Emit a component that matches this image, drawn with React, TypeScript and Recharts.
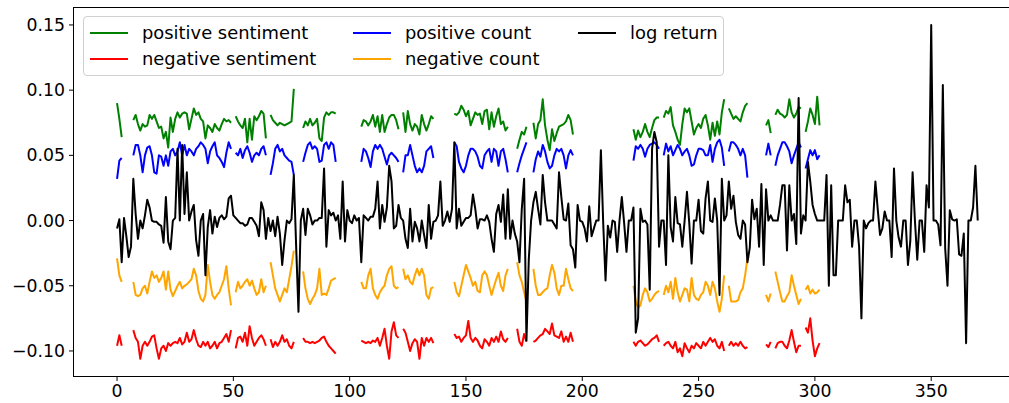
import React from 'react';
import { LineChart, Line, XAxis, YAxis } from 'recharts';

const indexCount = 371;
const xTicks = [0, 50, 100, 150, 200, 250, 300, 350];
const yTicks = [-0.1, -0.05, 0, 0.05, 0.1, 0.15];

// start index of each contiguous run of sentiment data (gaps between runs are missing days)
const segmentStarts = [0, 7, 51, 66, 80, 105, 123, 145, 172, 179, 222, 235, 263, 279, 283, 296];

const positiveSentiment = [
  [0.09, 0.078, 0.064],
  [0.077, 0.081, 0.074, 0.069, 0.074, 0.072, 0.073, 0.081, 0.078, 0.081, 0.076, 0.071, 0.072, 0.063, 0.068, 0.056, 0.079, 0.068, 0.078, 0.083, 0.079, 0.082, 0.083, 0.082, 0.07, 0.078, 0.086, 0.081, 0.083, 0.078, 0.076, 0.063, 0.073, 0.071, 0.068, 0.074, 0.071, 0.069, 0.074, 0.078, 0.076, 0.077, 0.075],
  [0.08, 0.076, 0.073, 0.071, 0.078, 0.06, 0.078, 0.062, 0.08, 0.077, 0.08, 0.084, 0.082, 0.063],
  [0.081, 0.077, 0.075, 0.073, 0.075, 0.074, 0.073, 0.074, 0.075, 0.076, 0.101],
  [0.071, 0.076, 0.073, 0.078, 0.073, 0.075, 0.078, 0.063, 0.061, 0.079, 0.083, 0.081, 0.083, 0.083, 0.082],
  [0.072, 0.077, 0.076, 0.073, 0.076, 0.081, 0.072, 0.08, 0.068, 0.081, 0.068, 0.074, 0.079, 0.081, 0.081, 0.077, 0.07],
  [0.083, 0.068, 0.084, 0.074, 0.069, 0.074, 0.072, 0.066, 0.081, 0.074, 0.069, 0.074, 0.08, 0.078],
  [0.082, 0.081, 0.083, 0.088, 0.085, 0.08, 0.084, 0.073, 0.078, 0.083, 0.081, 0.082, 0.074, 0.084, 0.085, 0.07, 0.083, 0.072, 0.08, 0.086, 0.074, 0.076, 0.069, 0.072],
  [0.055, 0.062, 0.068, 0.066, 0.072],
  [0.075, 0.063, 0.074, 0.077, 0.093, 0.073, 0.062, 0.054, 0.07, 0.061, 0.067, 0.072, 0.073, 0.074, 0.076, 0.081, 0.077, 0.066],
  [0.07, 0.062, 0.069, 0.064, 0.068, 0.074, 0.068, 0.064, 0.071, 0.077, 0.079, 0.079],
  [0.079, 0.084, 0.082, 0.087, 0.073, 0.068, 0.062, 0.058, 0.074, 0.086, 0.083, 0.086, 0.076, 0.066, 0.071, 0.074, 0.071, 0.078, 0.081, 0.073, 0.062, 0.075, 0.065, 0.076, 0.066, 0.083, 0.093],
  [0.086, 0.082, 0.078, 0.08, 0.078, 0.076, 0.083, 0.088, 0.09],
  [0.073, 0.077, 0.067],
  [0.081, 0.085, 0.082, 0.081, 0.079, 0.081, 0.093, 0.083, 0.079, 0.082, 0.087, 0.086],
  [0.068, 0.076, 0.086, 0.081, 0.074, 0.095, 0.073],
];

const negativeSentiment = [
  [-0.096, -0.088, -0.096],
  [-0.084, -0.09, -0.093, -0.106, -0.096, -0.093, -0.096, -0.093, -0.089, -0.088, -0.098, -0.106, -0.098, -0.096, -0.1, -0.094, -0.096, -0.094, -0.093, -0.094, -0.09, -0.095, -0.093, -0.086, -0.093, -0.091, -0.084, -0.091, -0.096, -0.097, -0.093, -0.096, -0.093, -0.098, -0.096, -0.093, -0.098, -0.094, -0.093, -0.09, -0.087, -0.093, -0.084],
  [-0.098, -0.09, -0.089, -0.093, -0.086, -0.096, -0.081, -0.09, -0.096, -0.093, -0.09, -0.088, -0.091, -0.096],
  [-0.091, -0.097, -0.093, -0.096, -0.093, -0.088, -0.093, -0.091, -0.096, -0.098, -0.093],
  [-0.09, -0.093, -0.093, -0.094, -0.093, -0.094, -0.093, -0.092, -0.09, -0.089, -0.093, -0.096, -0.098, -0.1, -0.102],
  [-0.092, -0.093, -0.094, -0.093, -0.094, -0.092, -0.093, -0.09, -0.096, -0.09, -0.083, -0.096, -0.106, -0.085, -0.078, -0.088, -0.09],
  [-0.083, -0.086, -0.093, -0.1, -0.094, -0.091, -0.093, -0.106, -0.09, -0.096, -0.09, -0.093, -0.09, -0.094],
  [-0.087, -0.09, -0.089, -0.093, -0.09, -0.088, -0.077, -0.09, -0.093, -0.09, -0.092, -0.096, -0.098, -0.091, -0.093, -0.096, -0.09, -0.093, -0.089, -0.093, -0.085, -0.091, -0.093, -0.09],
  [-0.083, -0.093, -0.096, -0.087, -0.093],
  [-0.093, -0.092, -0.09, -0.088, -0.087, -0.083, -0.085, -0.087, -0.079, -0.088, -0.089, -0.09, -0.085, -0.093, -0.089, -0.093, -0.086, -0.093],
  [-0.093, -0.096, -0.093, -0.092, -0.094, -0.096, -0.095, -0.093, -0.091, -0.09, -0.088, -0.093],
  [-0.096, -0.094, -0.093, -0.096, -0.098, -0.093, -0.101, -0.098, -0.104, -0.094, -0.098, -0.101, -0.096, -0.098, -0.094, -0.096, -0.098, -0.093, -0.096, -0.093, -0.09, -0.093, -0.091, -0.096, -0.098, -0.093, -0.1],
  [-0.096, -0.093, -0.096, -0.094, -0.096, -0.093, -0.096, -0.098, -0.097],
  [-0.095, -0.097, -0.093],
  [-0.098, -0.094, -0.093, -0.093, -0.096, -0.098, -0.092, -0.084, -0.093, -0.101, -0.096, -0.096],
  [-0.082, -0.086, -0.075, -0.092, -0.104, -0.098, -0.094],
];

const positiveCount = [
  [0.032, 0.046, 0.048],
  [0.05, 0.058, 0.058, 0.05, 0.037, 0.05, 0.056, 0.057, 0.05, 0.037, 0.036, 0.05, 0.049, 0.042, 0.05, 0.042, 0.053, 0.055, 0.05, 0.053, 0.06, 0.05, 0.058, 0.05, 0.055, 0.053, 0.05, 0.055, 0.057, 0.06, 0.058, 0.055, 0.044, 0.053, 0.057, 0.06, 0.05, 0.048, 0.045, 0.041, 0.052, 0.06, 0.055],
  [0.052, 0.05, 0.055, 0.048, 0.054, 0.057, 0.052, 0.045, 0.05, 0.052, 0.05, 0.055, 0.057, 0.05],
  [0.035, 0.044, 0.055, 0.058, 0.053, 0.055, 0.05, 0.048, 0.046, 0.045, 0.035],
  [0.045, 0.052, 0.058, 0.06, 0.055, 0.057, 0.055, 0.045, 0.046, 0.058, 0.06, 0.055, 0.06, 0.058, 0.045],
  [0.045, 0.055, 0.053, 0.048, 0.041, 0.053, 0.058, 0.055, 0.058, 0.055, 0.049, 0.043, 0.05, 0.052, 0.05, 0.048, 0.045],
  [0.037, 0.05, 0.05, 0.058, 0.05, 0.042, 0.037, 0.04, 0.037, 0.042, 0.053, 0.055, 0.057, 0.048],
  [0.06, 0.057, 0.045, 0.04, 0.037, 0.042, 0.05, 0.055, 0.055, 0.053, 0.049, 0.042, 0.04, 0.05, 0.053, 0.055, 0.045, 0.055, 0.053, 0.042, 0.053, 0.055, 0.047, 0.037],
  [0.037, 0.044, 0.05, 0.055, 0.06],
  [0.037, 0.047, 0.053, 0.049, 0.058, 0.053, 0.045, 0.04, 0.042, 0.05, 0.055, 0.053, 0.055, 0.05, 0.04, 0.05, 0.054, 0.05],
  [0.046, 0.057, 0.055, 0.058, 0.055, 0.049, 0.055, 0.058, 0.059, 0.06, 0.058, 0.055],
  [0.05, 0.059, 0.053, 0.057, 0.05, 0.054, 0.058, 0.055, 0.05, 0.053, 0.055, 0.05, 0.042, 0.043, 0.05, 0.055, 0.055, 0.054, 0.05, 0.05, 0.058, 0.045, 0.055, 0.06, 0.062, 0.056, 0.042],
  [0.053, 0.06, 0.06, 0.058, 0.055, 0.05, 0.055, 0.05, 0.033],
  [0.05, 0.059, 0.05],
  [0.042, 0.05, 0.055, 0.06, 0.06, 0.057, 0.053, 0.044, 0.05, 0.055, 0.06, 0.056],
  [0.04, 0.047, 0.054, 0.05, 0.054, 0.047, 0.05],
];

const negativeCount = [
  [-0.029, -0.042, -0.047],
  [-0.047, -0.057, -0.058, -0.057, -0.052, -0.05, -0.056, -0.047, -0.039, -0.044, -0.042, -0.047, -0.044, -0.039, -0.053, -0.039, -0.053, -0.058, -0.054, -0.05, -0.047, -0.052, -0.05, -0.049, -0.047, -0.045, -0.037, -0.042, -0.054, -0.06, -0.062, -0.057, -0.034, -0.047, -0.057, -0.06, -0.057, -0.055, -0.05, -0.045, -0.035, -0.052, -0.065],
  [-0.055, -0.047, -0.052, -0.05, -0.047, -0.045, -0.05, -0.046, -0.052, -0.057, -0.055, -0.045, -0.055, -0.05],
  [-0.032, -0.042, -0.052, -0.057, -0.062, -0.057, -0.052, -0.055, -0.045, -0.035, -0.023],
  [-0.039, -0.052, -0.06, -0.064, -0.06, -0.057, -0.052, -0.037, -0.057, -0.056, -0.057, -0.052, -0.046, -0.045, -0.044],
  [-0.047, -0.052, -0.052, -0.042, -0.037, -0.052, -0.057, -0.06, -0.055, -0.052, -0.05, -0.042, -0.037, -0.035, -0.05, -0.052, -0.051],
  [-0.037, -0.045, -0.042, -0.047, -0.049, -0.042, -0.037, -0.042, -0.037, -0.042, -0.057, -0.06, -0.052, -0.051],
  [-0.047, -0.055, -0.058, -0.05, -0.042, -0.034, -0.039, -0.044, -0.05, -0.047, -0.054, -0.055, -0.042, -0.039, -0.042, -0.05, -0.057, -0.051, -0.045, -0.04, -0.05, -0.054, -0.042, -0.037],
  [-0.032, -0.042, -0.047, -0.055, -0.062],
  [-0.037, -0.05, -0.057, -0.057, -0.055, -0.053, -0.052, -0.042, -0.034, -0.04, -0.052, -0.057, -0.05, -0.05, -0.037, -0.045, -0.052, -0.054],
  [-0.05, -0.062, -0.067, -0.065, -0.057, -0.052, -0.055, -0.062, -0.06, -0.057, -0.055, -0.054],
  [-0.057, -0.05, -0.055, -0.047, -0.06, -0.044, -0.055, -0.062, -0.057, -0.052, -0.053, -0.062, -0.044, -0.057, -0.06, -0.061, -0.057, -0.055, -0.047, -0.05, -0.057, -0.047, -0.052, -0.062, -0.07, -0.06, -0.042],
  [-0.05, -0.062, -0.062, -0.062, -0.061, -0.055, -0.052, -0.042, -0.029],
  [-0.057, -0.062, -0.056],
  [-0.039, -0.047, -0.055, -0.062, -0.062, -0.058, -0.055, -0.042, -0.05, -0.057, -0.064, -0.06],
  [-0.053, -0.05, -0.056, -0.053, -0.056, -0.055, -0.053],
];

const logReturn = [
  -0.006, 0.001, -0.032, 0.002, -0.012, -0.028, -0.02, 0.032, 0.005, -0.014,
  0.0, -0.006, 0.004, 0.016, 0.01, 0.0, -0.001, -0.001, -0.003, -0.004,
  -0.017, 0.018, -0.016, -0.022, 0.0, 0.002, 0.055, 0.0, 0.058, 0.005,
  0.037, 0.0, 0.007, 0.012, -0.015, -0.027, 0.0, 0.005, -0.042, -0.005,
  0.008, -0.01, 0.003, -0.005, 0.002, 0.004, 0.001, 0.003, 0.017, 0.019,
  0.004, 0.002, 0.0, -0.002, -0.002, -0.004, -0.003, 0.002, 0.002, -0.001,
  -0.004, -0.012, 0.014, 0.008, -0.014, 0.002, -0.008, 0.0, -0.012, 0.003,
  -0.01, -0.034, -0.015, 0.0, -0.002, 0.001, 0.035, -0.02, -0.07, 0.0,
  0.009, -0.011, 0.009, 0.004, -0.003, 0.0, 0.0, 0.002, 0.002, 0.04,
  -0.02, 0.008, 0.004, 0.006, 0.0, 0.004, -0.014, 0.03, -0.016, 0.008,
  0.0, -0.002, 0.004, 0.0, 0.002, -0.032, 0.004, 0.002, 0.0, 0.003,
  0.003, 0.009, 0.03, -0.006, 0.012, -0.001, 0.01, 0.042, 0.03, -0.006,
  -0.004, 0.012, 0.002, 0.0, -0.014, -0.021, 0.009, -0.016, -0.001, -0.006,
  -0.016, 0.0, -0.011, -0.021, 0.012, -0.014, -0.001, 0.0, 0.004, 0.03,
  -0.004, 0.0, 0.007, -0.001, 0.009, 0.06, -0.006, 0.009, -0.004, -0.001,
  0.002, 0.002, 0.004, 0.02, 0.009, -0.006, 0.001, 0.001, 0.0, 0.004,
  -0.001, -0.014, -0.024, 0.005, 0.012, -0.001, 0.02, -0.014, 0.024, -0.014,
  0.0, -0.01, -0.016, -0.032, 0.009, 0.032, -0.092, -0.03, 0.0, 0.014,
  0.022, 0.009, -0.003, 0.035, 0.014, 0.0, 0.0, 0.0, -0.003, -0.006,
  0.037, 0.018, 0.001, 0.0, 0.013, -0.019, -0.022, -0.036, 0.012, 0.0,
  -0.001, -0.006, -0.016, 0.011, -0.012, -0.006, 0.0, 0.0, 0.054, -0.002,
  -0.046, -0.004, -0.013, 0.0, -0.001, -0.024, 0.0, 0.018, -0.002, -0.024,
  0.0, 0.0, 0.01, -0.086, -0.075, 0.009, -0.001, 0.0, -0.003, -0.053,
  0.055, 0.068, 0.06, -0.02, 0.0, 0.0, -0.034, 0.05, -0.005, -0.016,
  0.018, -0.002, -0.003, -0.02, 0.0, 0.022, -0.002, -0.033, 0.0, 0.0,
  0.016, -0.008, -0.01, 0.017, 0.03, 0.0, -0.001, 0.017, 0.0, -0.057,
  0.032, 0.0, 0.004, 0.03, 0.009, 0.019, -0.001, -0.011, -0.014, 0.0,
  -0.003, -0.032, -0.021, 0.016, 0.001, 0.009, -0.02, 0.028, -0.034, 0.024,
  0.0, 0.004, 0.0, 0.0, 0.0, 0.012, 0.027, 0.027, -0.023, 0.027,
  0.0, 0.005, -0.018, 0.094, -0.01, 0.004, 0.0, 0.045, 0.03, 0.012,
  0.005, 0.0, 0.0, 0.0, 0.0, 0.035, -0.05, 0.027, -0.042, -0.042,
  0.0, 0.0, 0.0, 0.027, 0.014, 0.016, -0.02, 0.0, 0.0, -0.02,
  -0.075, 0.0, -0.006, -0.002, 0.0, 0.0, 0.03, 0.009, -0.011, -0.006,
  0.007, 0.0, 0.0, -0.028, 0.04, 0.0, -0.013, -0.02, 0.0, 0.0,
  -0.034, -0.016, 0.037, 0.0, -0.03, 0.0, 0.0, -0.024, 0.027, 0.01,
  0.15, 0.0, 0.0, -0.003, -0.019, 0.104, -0.021, -0.05, 0.008, 0.001,
  0.0, 0.001, -0.026, -0.027, -0.01, -0.094, 0.0, 0.0, 0.01, 0.042, 0.0,
];

function fromSegments(segs: number[][]): (number | null)[] {
  const out: (number | null)[] = new Array(indexCount).fill(null);
  segs.forEach((seg, k) => {
    seg.forEach((v, j) => {
      out[segmentStarts[k] + j] = v;
    });
  });
  return out;
}

const seriesConfig = [
  { key: 'posSent', name: 'positive sentiment', color: 'green', values: fromSegments(positiveSentiment) },
  { key: 'negSent', name: 'negative sentiment', color: 'red', values: fromSegments(negativeSentiment) },
  { key: 'posCount', name: 'positive count', color: 'blue', values: fromSegments(positiveCount) },
  { key: 'negCount', name: 'negative count', color: 'orange', values: fromSegments(negativeCount) },
  { key: 'ret', name: 'log return', color: 'black', values: logReturn as (number | null)[] },
];

const rows = Array.from({ length: indexCount }, (_, i) => {
  const r: Record<string, number | null> = { x: i };
  seriesConfig.forEach((s) => {
    const v = s.values[i];
    r[s.key] = v === undefined ? null : v;
  });
  return r;
});

const FONT = '"DejaVu Sans", Verdana, sans-serif';

const fmtY = (v: number) => {
  const s = Math.abs(v).toFixed(2);
  return v < -1e-9 ? '\u2212' + s : s;
};

const legendCols = [0, 263, 488];

export default function App() {
  return (
    <div
      style={{
        position: 'absolute',
        left: 0,
        top: 0,
        width: 1009,
        height: 403,
        overflow: 'hidden',
        background: '#fff',
        fontFamily: FONT,
      }}
    >
      <LineChart
        width={1021}
        height={403}
        data={rows}
        margin={{ top: 8, right: 0, bottom: 0, left: 0 }}
      >
        <XAxis
          dataKey="x"
          type="number"
          domain={[-18.5, 388.6]}
          ticks={xTicks}
          allowDataOverflow
          height={27}
          axisLine={false}
          tickLine={{ stroke: '#000', strokeWidth: 1 }}
          tickSize={5}
          tickMargin={4}
          tick={{ fill: '#000', fontSize: 17.3, fontFamily: FONT }}
          interval={0}
        />
        <YAxis
          type="number"
          domain={[-0.1192, 0.163]}
          ticks={yTicks}
          allowDataOverflow
          width={74}
          axisLine={false}
          tickLine={{ stroke: '#000', strokeWidth: 1 }}
          tickSize={5}
          tickMargin={4}
          tickFormatter={fmtY}
          tick={{ fill: '#000', fontSize: 17.3, fontFamily: FONT }}
          interval={0}
        />
        {seriesConfig.map((s) => (
          <Line
            key={s.key}
            dataKey={s.key}
            type="linear"
            stroke={s.color}
            strokeWidth={2}
            strokeLinejoin="round"
            dot={false}
            activeDot={false}
            connectNulls={false}
            isAnimationActive={false}
          />
        ))}
      </LineChart>
      <div
        style={{
          position: 'absolute',
          left: 73,
          top: 7,
          width: 960,
          height: 370,
          boxSizing: 'border-box',
          border: '1px solid #000',
          pointerEvents: 'none',
        }}
      />
      <div
        style={{
          position: 'absolute',
          left: 83,
          top: 16,
          width: 641,
          height: 60,
          boxSizing: 'border-box',
          border: '1px solid #d0d0d0',
          borderRadius: 4,
          background: 'rgba(255,255,255,0.8)',
        }}
      >
        {seriesConfig.map((s, k) => {
          const col = Math.floor(k / 2);
          const row = k % 2;
          const x0 = legendCols[col];
          const yc = 15.7 + row * 26;
          return (
            <React.Fragment key={s.key}>
              <div
                style={{
                  position: 'absolute',
                  left: x0 + 6,
                  top: yc - 1,
                  width: 38,
                  height: 2,
                  background: s.color,
                }}
              />
              <div
                style={{
                  position: 'absolute',
                  left: x0 + 58,
                  top: yc - 12,
                  height: 24,
                  lineHeight: '24px',
                  fontSize: 17.9,
                  color: '#000',
                  whiteSpace: 'nowrap',
                }}
              >
                {s.name}
              </div>
            </React.Fragment>
          );
        })}
      </div>
    </div>
  );
}
